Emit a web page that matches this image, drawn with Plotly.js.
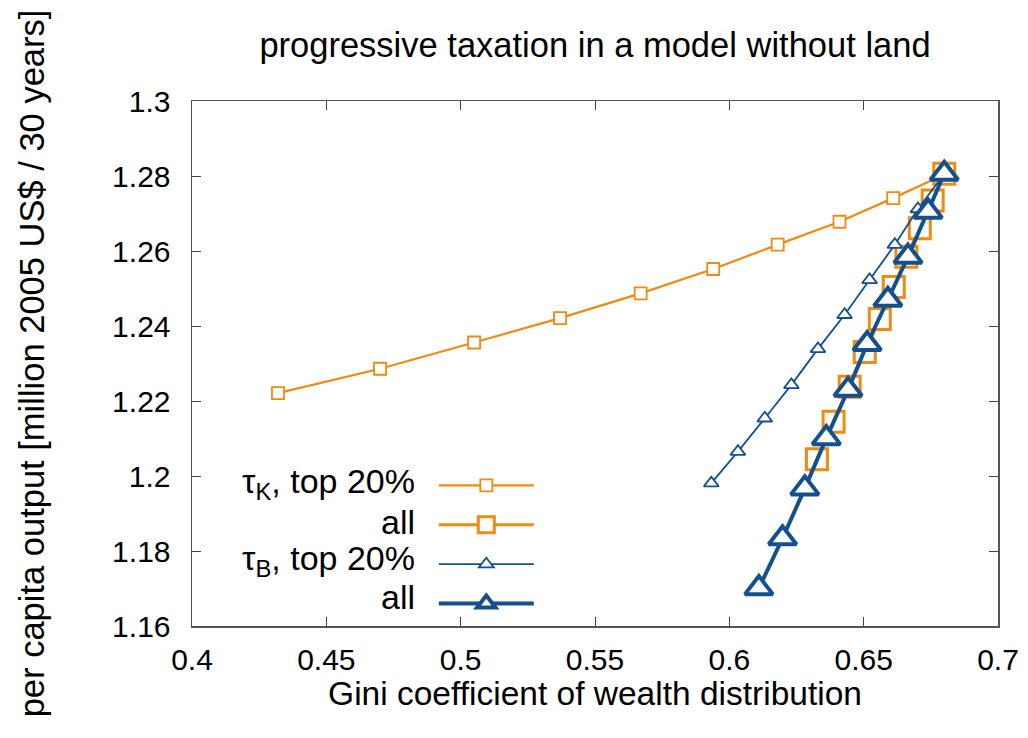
<!DOCTYPE html>
<html>
<head>
<meta charset="utf-8">
<script src="https://cdn.plot.ly/plotly-3.0.1.min.js"></script>
<style>html,body{margin:0;padding:0;background:#fff;}#chart{width:1028px;height:738px;}</style>
</head>
<body>
<div id="chart"></div>
<script>
// Data
const giniTauKTop20 = [0.432, 0.470, 0.505, 0.537, 0.567, 0.594, 0.618, 0.641, 0.661, 0.680];
const outputTauKTop20 = [1.2221, 1.2286, 1.2356, 1.2421, 1.2487, 1.2552, 1.2617, 1.2678, 1.2741, 1.2804];

const giniTauKAll = [0.680, 0.6757, 0.6709, 0.6659, 0.6612, 0.6560, 0.6504, 0.6448, 0.6388, 0.6326];
const outputTauKAll = [1.2806, 1.2735, 1.2661, 1.2585, 1.2504, 1.2419, 1.2331, 1.2238, 1.2145, 1.2045];

const giniTauBTop20 = [0.680, 0.6702, 0.6616, 0.6522, 0.6429, 0.6330, 0.6231, 0.6132, 0.6032, 0.5933];
const outputTauBTop20 = [1.2806, 1.2712, 1.2617, 1.2523, 1.2430, 1.2339, 1.2243, 1.2154, 1.2065, 1.1981];

const giniTauBAll = [0.680, 0.6740, 0.6665, 0.6590, 0.6513, 0.6442, 0.6361, 0.6281, 0.6198, 0.6110];
const outputTauBAll = [1.2806, 1.2705, 1.2585, 1.2470, 1.2352, 1.2230, 1.2101, 1.1967, 1.1834, 1.1701];

const seriesLabels = ["τ<sub>K</sub>, top 20%", "all", "τ<sub>B</sub>, top 20%", "all"];
const xTickVals = [0.4, 0.45, 0.5, 0.55, 0.6, 0.65, 0.7];
const yTickVals = [1.16, 1.18, 1.2, 1.22, 1.24, 1.26, 1.28, 1.3];

const ORANGE = '#f08a10';
const BLUE = '#14508e';
const FONT = 'Liberation Sans, Arial, sans-serif';

const traces = [
  {x: giniTauKTop20, y: outputTauKTop20, mode: 'lines+markers', name: ' ',
   line: {color: ORANGE, width: 2.2},
   marker: {symbol: 'square', size: 12, color: '#ffffff', line: {color: ORANGE, width: 1.8}}},
  {x: giniTauKAll, y: outputTauKAll, mode: 'lines+markers', name: ' ',
   line: {color: ORANGE, width: 3},
   marker: {symbol: 'square', size: 21, color: '#ffffff', line: {color: ORANGE, width: 3}}},
  {x: giniTauBTop20, y: outputTauBTop20, mode: 'lines+markers', name: ' ',
   line: {color: BLUE, width: 1.8},
   marker: {symbol: 'triangle-up', size: 13, color: '#ffffff', line: {color: BLUE, width: 1.8}}},
  {x: giniTauBAll, y: outputTauBAll, mode: 'lines+markers', name: ' ',
   line: {color: BLUE, width: 4},
   marker: {symbol: 'triangle-up', size: 24, color: '#ffffff', line: {color: BLUE, width: 4}}}
];

const rowY = [0.2706, 0.198, 0.1239, 0.0553];
const annotations = seriesLabels.map((t, i) => ({
  text: t, xref: 'paper', yref: 'paper', x: 0.279, y: rowY[i],
  xanchor: 'right', yanchor: 'middle', showarrow: false,
  font: {family: FONT, size: 34, color: '#000'}
}));

const layout = {
  width: 1028, height: 738,
  margin: {l: 192, r: 30, t: 101, b: 112},
  paper_bgcolor: '#ffffff', plot_bgcolor: '#ffffff',
  font: {family: FONT, size: 30, color: '#000'},
  title: {text: 'progressive taxation in a model without land',
          font: {family: FONT, size: 34.5, color: '#000'},
          x: 0.5, xref: 'paper', y: 1 - 45 / 738, yref: 'container', yanchor: 'middle'},
  xaxis: {range: [0.4, 0.7], tickvals: xTickVals, ticks: 'inside', ticklen: 9, tickcolor: '#444',
          showline: true, linecolor: '#555', linewidth: 1.5, mirror: 'allticks', showgrid: false, zeroline: false,
          tickfont: {family: FONT, size: 30}, ticklabelstandoff: 6,
          title: {text: 'Gini coefficient of wealth distribution', font: {family: FONT, size: 33.5}, standoff: 4}},
  yaxis: {range: [1.16, 1.3], tickvals: yTickVals, ticks: 'inside', ticklen: 9, tickcolor: '#444',
          showline: true, linecolor: '#555', linewidth: 1.5, mirror: 'allticks', showgrid: false, zeroline: false,
          tickfont: {family: FONT, size: 30}, ticklabelstandoff: 14,
          title: {text: 'per capita output [million 2005 US$ / 30 years]', font: {family: FONT, size: 34.5}, standoff: 57}},
  showlegend: true,
  legend: {x: 0.3, y: 0.315, xanchor: 'left', yanchor: 'top', bgcolor: 'rgba(0,0,0,0)',
           borderwidth: 0, itemwidth: 95, font: {family: FONT, size: 28}, tracegroupgap: 0},
  annotations: annotations
};

Plotly.newPlot('chart', traces, layout, {displayModeBar: false, staticPlot: true});
</script>
</body>
</html>
